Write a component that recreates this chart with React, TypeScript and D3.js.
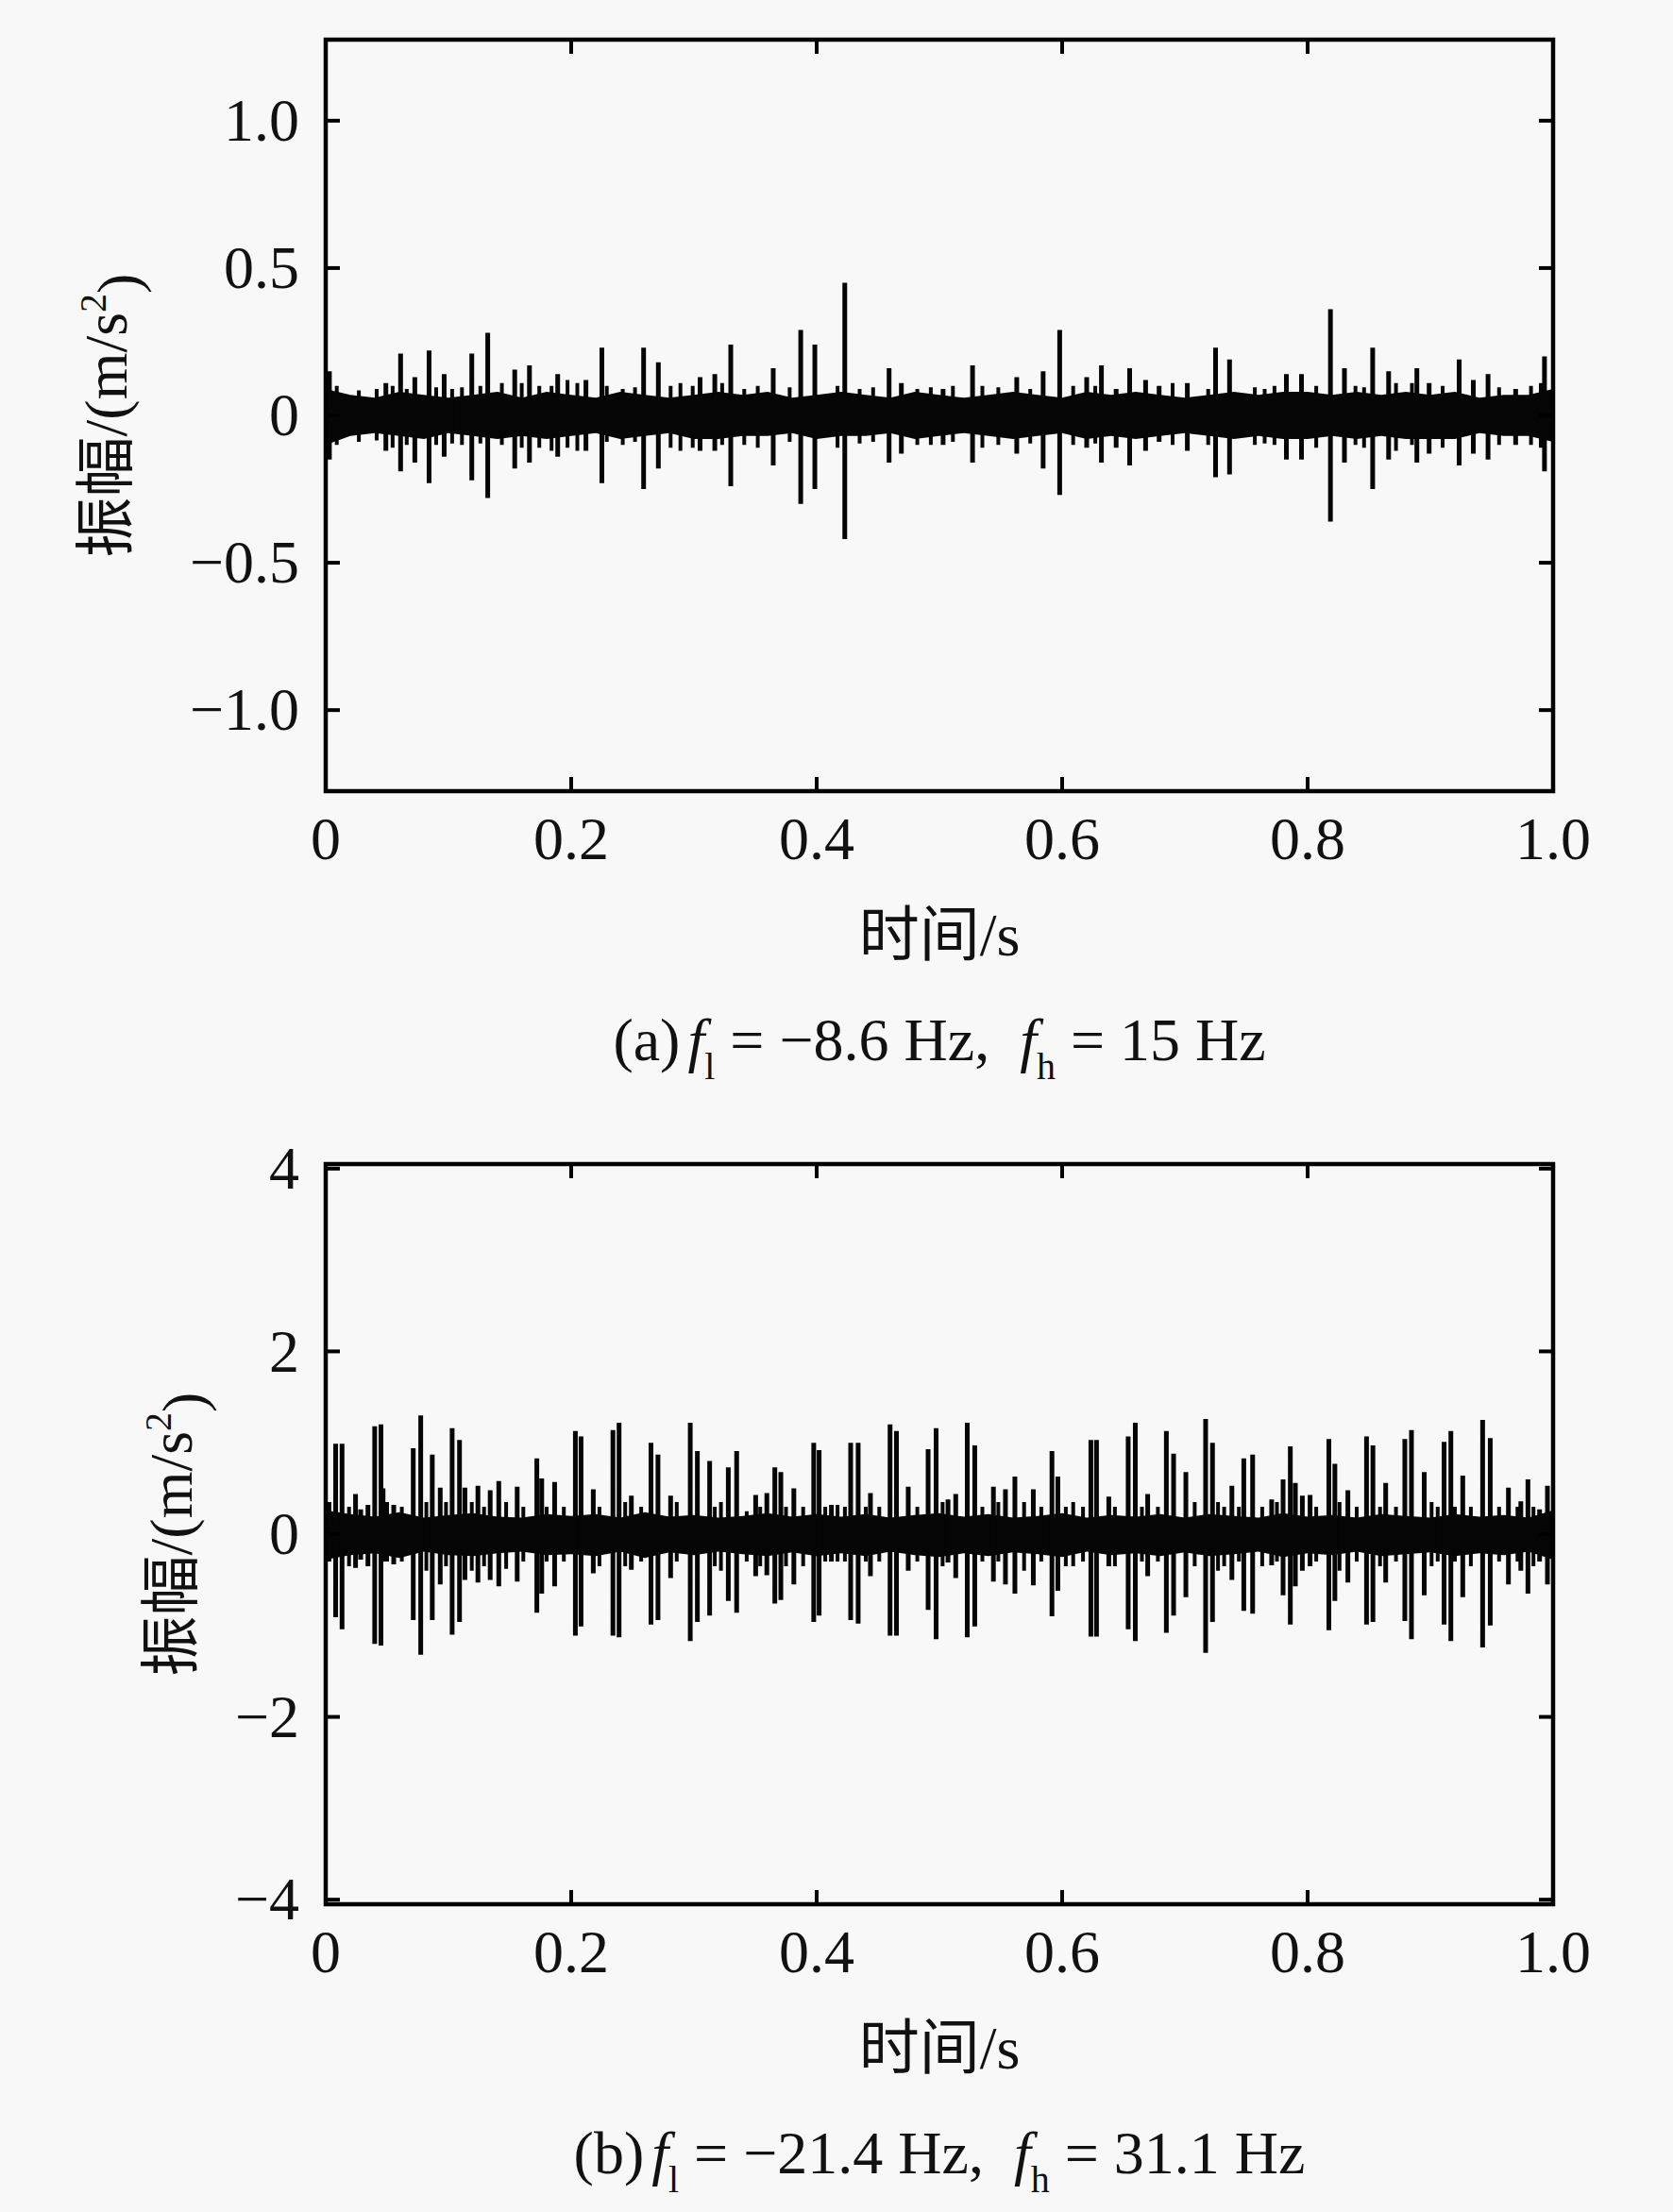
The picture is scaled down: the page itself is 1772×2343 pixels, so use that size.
import * as d3 from "d3";

// panel (a): band envelope every 0.02 s, and the impulses [t, max, min]
const bandT = d3.range(0, 51).map((i) => i * 0.02);

const aBandTop = [
  0.09, 0.07, 0.06, 0.08, 0.07, 0.06, 0.07, 0.08, 0.06, 0.08, 0.07, 0.06, 0.08,
  0.07, 0.06, 0.07, 0.08, 0.07, 0.08, 0.06, 0.07, 0.08, 0.07, 0.06, 0.08, 0.07,
  0.06, 0.07, 0.08, 0.07, 0.06, 0.08, 0.07, 0.08, 0.07, 0.06, 0.07, 0.08, 0.07,
  0.08, 0.08, 0.07, 0.08, 0.07, 0.08, 0.07, 0.08, 0.06, 0.07, 0.07, 0.09,
];
const aBandBot = [
  -0.1, -0.07, -0.06, -0.07, -0.08, -0.06, -0.07, -0.08, -0.07, -0.08, -0.07,
  -0.06, -0.08, -0.07, -0.06, -0.08, -0.08, -0.07, -0.07, -0.06, -0.08, -0.07,
  -0.07, -0.06, -0.08, -0.07, -0.06, -0.07, -0.08, -0.07, -0.06, -0.08, -0.07,
  -0.08, -0.07, -0.06, -0.07, -0.08, -0.07, -0.08, -0.08, -0.07, -0.08, -0.07,
  -0.08, -0.08, -0.08, -0.06, -0.07, -0.07, -0.09,
];
const aSpikes: [number, number, number][] = [
  [0.003, 0.15, -0.15], [0.049, 0.11, -0.12], [0.061, 0.21, -0.19],
  [0.0726, 0.13, -0.16], [0.0842, 0.22, -0.23], [0.0965, 0.14, -0.14],
  [0.119, 0.21, -0.22], [0.132, 0.28, -0.28], [0.154, 0.155, -0.18],
  [0.166, 0.17, -0.16], [0.189, 0.14, -0.14], [0.212, 0.12, -0.12],
  [0.225, 0.23, -0.23], [0.259, 0.23, -0.25], [0.271, 0.18, -0.18],
  [0.305, 0.13, -0.12], [0.317, 0.14, -0.12], [0.33, 0.24, -0.24],
  [0.3646, 0.16, -0.17], [0.387, 0.29, -0.3], [0.3985, 0.24, -0.25],
  [0.4229, 0.45, -0.42], [0.459, 0.16, -0.16], [0.469, 0.11, -0.13],
  [0.503, 0.09, -0.1], [0.527, 0.17, -0.16], [0.563, 0.13, -0.13],
  [0.5845, 0.15, -0.18], [0.598, 0.29, -0.27], [0.62, 0.13, -0.11],
  [0.632, 0.17, -0.16], [0.644, 0.09, -0.11], [0.655, 0.16, -0.17],
  [0.668, 0.12, -0.12], [0.679, 0.1, -0.09], [0.702, 0.11, -0.12],
  [0.725, 0.23, -0.21], [0.7364, 0.19, -0.2], [0.7827, 0.14, -0.15],
  [0.795, 0.14, -0.15], [0.8186, 0.36, -0.36], [0.83, 0.16, -0.16],
  [0.853, 0.23, -0.25], [0.866, 0.15, -0.15], [0.889, 0.16, -0.16],
  [0.899, 0.11, -0.13], [0.9235, 0.19, -0.17], [0.935, 0.12, -0.13],
  [0.947, 0.14, -0.15], [0.9695, 0.09, -0.1], [0.993, 0.2, -0.19],
];
// smaller bursts that make the fuzzy edge of the band
const aMinor: [number, number, number][] = [
  [0.009, 0.1, -0.1], [0.027, 0.085, -0.09], [0.0415, 0.09, -0.085],
  [0.0545, 0.1, -0.11], [0.066, 0.09, -0.1], [0.09, 0.095, -0.1],
  [0.103, 0.09, -0.095], [0.111, 0.095, -0.1], [0.126, 0.1, -0.095],
  [0.1435, 0.11, -0.1], [0.1597, 0.11, -0.11], [0.174, 0.1, -0.11],
  [0.184, 0.1, -0.12], [0.197, 0.12, -0.11], [0.205, 0.11, -0.12],
  [0.229, 0.1, -0.09], [0.242, 0.09, -0.1], [0.252, 0.095, -0.09],
  [0.281, 0.1, -0.11], [0.289, 0.11, -0.12], [0.299, 0.1, -0.11],
  [0.323, 0.11, -0.1], [0.341, 0.09, -0.1], [0.352, 0.1, -0.11],
  [0.378, 0.095, -0.09], [0.417, 0.1, -0.11], [0.435, 0.09, -0.095],
  [0.446, 0.095, -0.09], [0.482, 0.09, -0.1], [0.493, 0.095, -0.1],
  [0.511, 0.1, -0.09], [0.535, 0.1, -0.11], [0.548, 0.095, -0.1],
  [0.574, 0.09, -0.095], [0.609, 0.1, -0.1], [0.627, 0.1, -0.095],
  [0.69, 0.11, -0.1], [0.719, 0.09, -0.1], [0.757, 0.095, -0.1],
  [0.765, 0.09, -0.095], [0.773, 0.1, -0.1], [0.807, 0.1, -0.11],
  [0.839, 0.1, -0.1], [0.846, 0.095, -0.11], [0.872, 0.11, -0.12],
  [0.885, 0.11, -0.1], [0.91, 0.1, -0.11], [0.956, 0.095, -0.1],
  [0.982, 0.1, -0.1], [0.99, 0.11, -0.11],
];

// panel (b)
const bBandTop = [
  0.26, 0.22, 0.19, 0.24, 0.18, 0.21, 0.23, 0.19, 0.18, 0.22, 0.2, 0.22, 0.18,
  0.24, 0.19, 0.21, 0.18, 0.2, 0.23, 0.19, 0.22, 0.19, 0.22, 0.18, 0.21, 0.23,
  0.19, 0.22, 0.18, 0.2, 0.23, 0.18, 0.21, 0.19, 0.22, 0.18, 0.22, 0.2, 0.18,
  0.23, 0.19, 0.21, 0.18, 0.22, 0.2, 0.18, 0.22, 0.19, 0.21, 0.18, 0.26,
];
const bBandBot = [
  -0.28, -0.23, -0.21, -0.26, -0.19, -0.23, -0.24, -0.21, -0.19, -0.23, -0.22,
  -0.24, -0.19, -0.26, -0.2, -0.23, -0.19, -0.22, -0.24, -0.2, -0.24, -0.21,
  -0.24, -0.19, -0.23, -0.25, -0.21, -0.24, -0.2, -0.22, -0.25, -0.19, -0.23,
  -0.21, -0.24, -0.2, -0.24, -0.22, -0.19, -0.25, -0.21, -0.23, -0.19, -0.24,
  -0.22, -0.2, -0.24, -0.21, -0.23, -0.19, -0.28,
];
const bSpikes: [number, number, number][] = [
  [0.0081, 0.99, -0.91], [0.0133, 0.99, -1.04], [0.0243, 0.44, -0.37],
  [0.0285, 0.27, -0.28], [0.0344, 0.32, -0.35], [0.0399, 1.18, -1.2],
  [0.045, 1.2, -1.22], [0.0467, 0.5, -0.3], [0.0554, 0.32, -0.33],
  [0.0713, 0.94, -0.94], [0.0774, 1.3, -1.32], [0.0868, 0.87, -0.94],
  [0.0933, 0.51, -0.55], [0.103, 1.16, -1.1], [0.109, 1.03, -0.96],
  [0.1134, 0.51, -0.5], [0.124, 0.53, -0.53], [0.134, 0.48, -0.5],
  [0.141, 0.58, -0.57], [0.156, 0.52, -0.52], [0.172, 0.83, -0.86],
  [0.176, 0.61, -0.65], [0.1865, 0.57, -0.57], [0.2034, 1.13, -1.11],
  [0.208, 1.07, -1.01], [0.218, 0.49, -0.43], [0.234, 1.14, -1.11],
  [0.239, 1.22, -1.13], [0.249, 0.42, -0.39], [0.265, 1.0, -0.99],
  [0.2707, 0.87, -0.94], [0.281, 0.42, -0.48], [0.297, 1.22, -1.17],
  [0.3028, 0.91, -0.96], [0.3128, 0.8, -0.89], [0.328, 0.73, -0.73],
  [0.3348, 0.91, -0.86], [0.3503, 0.43, -0.46], [0.3594, 0.45, -0.45],
  [0.3659, 0.73, -0.76], [0.3708, 0.68, -0.72], [0.3814, 0.5, -0.55],
  [0.3976, 1.0, -0.96], [0.402, 0.92, -0.89], [0.412, 0.32, -0.3],
  [0.4277, 1.0, -0.94], [0.4338, 1.0, -0.98], [0.4438, 0.45, -0.46],
  [0.4598, 1.2, -1.11], [0.465, 1.13, -1.11], [0.4746, 0.52, -0.4],
  [0.4908, 0.93, -0.83], [0.4973, 1.16, -1.15], [0.507, 0.38, -0.31],
  [0.5133, 0.44, -0.48], [0.5227, 1.22, -1.13], [0.5288, 0.97, -1.01],
  [0.544, 0.52, -0.52], [0.5538, 0.49, -0.55], [0.5615, 0.63, -0.65],
  [0.5765, 0.49, -0.56], [0.5917, 0.91, -0.9], [0.5965, 0.63, -0.62],
  [0.6234, 1.03, -1.12], [0.628, 1.03, -1.12], [0.638, 0.41, -0.35],
  [0.6538, 1.07, -1.04], [0.6596, 1.22, -1.17], [0.6697, 0.44, -0.46],
  [0.6849, 1.13, -1.08], [0.6908, 0.88, -0.89], [0.7008, 0.68, -0.69],
  [0.7169, 1.26, -1.3], [0.7225, 1.0, -0.96], [0.7383, 0.53, -0.5],
  [0.748, 0.83, -0.84], [0.7552, 0.87, -0.87], [0.7707, 0.38, -0.34],
  [0.78, 0.6, -0.67], [0.7859, 0.96, -0.99], [0.79, 0.56, -0.57],
  [0.7957, 0.42, -0.4], [0.802, 0.43, -0.35], [0.8173, 1.04, -1.05],
  [0.8222, 0.77, -0.73], [0.8328, 0.48, -0.53], [0.848, 1.07, -0.99],
  [0.8532, 0.97, -0.96], [0.8636, 0.56, -0.53], [0.8792, 1.04, -0.95],
  [0.8846, 1.14, -1.15], [0.895, 0.68, -0.67], [0.9112, 1.01, -0.99],
  [0.9167, 1.13, -1.17], [0.9264, 0.64, -0.69], [0.9426, 1.25, -1.24],
  [0.9488, 1.05, -1.0], [0.9636, 0.51, -0.55], [0.9737, 0.36, -0.4],
  [0.9795, 0.6, -0.65], [0.989, 0.27, -0.3], [0.9954, 0.53, -0.55],
];
const bMinor: [number, number, number][] = [
  [0.003, 0.35, -0.3], [0.019, 0.3, -0.35], [0.05, 0.35, -0.3],
  [0.062, 0.3, -0.3], [0.082, 0.35, -0.4], [0.098, 0.35, -0.35],
  [0.119, 0.35, -0.4], [0.129, 0.3, -0.35], [0.147, 0.35, -0.38],
  [0.161, 0.3, -0.3], [0.18, 0.3, -0.3], [0.194, 0.3, -0.3],
  [0.223, 0.3, -0.35], [0.244, 0.35, -0.35], [0.257, 0.3, -0.3],
  [0.286, 0.35, -0.3], [0.317, 0.3, -0.35], [0.322, 0.35, -0.4],
  [0.343, 0.25, -0.3], [0.354, 0.3, -0.35], [0.375, 0.3, -0.35],
  [0.389, 0.3, -0.35], [0.407, 0.3, -0.3], [0.417, 0.32, -0.3],
  [0.423, 0.3, -0.3], [0.44, 0.3, -0.3], [0.451, 0.3, -0.3],
  [0.482, 0.3, -0.3], [0.5026, 0.35, -0.35], [0.535, 0.3, -0.3],
  [0.548, 0.35, -0.3], [0.569, 0.35, -0.4], [0.583, 0.3, -0.3],
  [0.603, 0.3, -0.35], [0.609, 0.35, -0.35], [0.617, 0.3, -0.3],
  [0.643, 0.3, -0.35], [0.665, 0.3, -0.3], [0.678, 0.3, -0.3],
  [0.708, 0.35, -0.35], [0.727, 0.35, -0.4], [0.732, 0.3, -0.35],
  [0.744, 0.3, -0.3], [0.763, 0.3, -0.35], [0.775, 0.35, -0.3],
  [0.807, 0.3, -0.3], [0.826, 0.35, -0.4], [0.84, 0.3, -0.3],
  [0.859, 0.3, -0.35], [0.872, 0.3, -0.3], [0.901, 0.35, -0.35],
  [0.906, 0.3, -0.3], [0.92, 0.3, -0.3], [0.933, 0.3, -0.35],
  [0.956, 0.3, -0.3], [0.971, 0.3, -0.3], [0.984, 0.3, -0.35],
];

const xTicks = [0, 0.2, 0.4, 0.6, 0.8, 1.0];
const xTickLabels = ["0", "0.2", "0.4", "0.6", "0.8", "1.0"];
const aYTicks = [1, 0.5, 0, -0.5, -1];
const aYTickLabels = ["1.0", "0.5", "0", "\u22120.5", "\u22121.0"];
const bYTicks = [4, 2, 0, -2, -4];
const bYTickLabels = ["4", "2", "0", "\u22122", "\u22124"];

const FONT = "'Liberation Serif', 'Times New Roman', 'Noto Sans CJK SC', serif";
const LEFT = 345;
const RIGHT = 1645;
const TICK = 15;
const INK = "#050505";

interface PanelProps {
  id: string;
  top: number;
  bottom: number;
  yMax: number;
  yTicks: number[];
  yTickLabels: string[];
  bandTop: number[];
  bandBot: number[];
  spikes: [number, number, number][];
  minor: [number, number, number][];
  yLabelX: number;
  letter: string;
  fl: string;
  fh: string;
}

function Panel(p: PanelProps) {
  const x = d3.scaleLinear().domain([0, 1]).range([LEFT, RIGHT]);
  const y = d3.scaleLinear().domain([-p.yMax, p.yMax]).range([p.bottom, p.top]);

  const area = d3
    .area<number>()
    .x((_d, i) => x(bandT[i]))
    .y0((_d, i) => y(p.bandBot[i]))
    .y1((d) => y(d));

  const toPath = (list: [number, number, number][]) =>
    list.map(([t, hi, lo]) => `M${x(t)},${y(hi)}V${y(lo)}`).join("");

  const zeroY = y(0);
  const midX = (LEFT + RIGHT) / 2;

  return (
    <g>
      <clipPath id={`clip-${p.id}`}>
        <rect x={LEFT} y={p.top} width={RIGHT - LEFT} height={p.bottom - p.top} />
      </clipPath>
      <g clipPath={`url(#clip-${p.id})`}>
        <path d={area(p.bandTop) || ""} fill={INK} />
        <path d={toPath(p.minor)} stroke={INK} strokeWidth={4} fill="none" />
        <path d={toPath(p.spikes)} stroke={INK} strokeWidth={5} fill="none" />
      </g>

      <rect
        x={LEFT}
        y={p.top}
        width={RIGHT - LEFT}
        height={p.bottom - p.top}
        fill="none"
        stroke="#000"
        strokeWidth={4.5}
      />
      {xTicks.map((t) => (
        <g key={`xt${t}`} stroke="#000" strokeWidth={4}>
          <line x1={x(t)} x2={x(t)} y1={p.bottom} y2={p.bottom - TICK} />
          <line x1={x(t)} x2={x(t)} y1={p.top} y2={p.top + TICK} />
        </g>
      ))}
      {p.yTicks.map((v) => (
        <g key={`yt${v}`} stroke="#000" strokeWidth={4}>
          <line x1={LEFT} x2={LEFT + TICK} y1={y(v)} y2={y(v)} />
          <line x1={RIGHT} x2={RIGHT - TICK} y1={y(v)} y2={y(v)} />
        </g>
      ))}

      <g fontFamily={FONT} fontSize={64} fill="#111">
        {xTicks.map((t, i) => (
          <text key={`xl${t}`} x={x(t)} y={p.bottom + 72} textAnchor="middle">
            {xTickLabels[i]}
          </text>
        ))}
        {p.yTicks.map((v, i) => (
          <text key={`yl${v}`} x={317} y={y(v)} dy="0.33em" textAnchor="end">
            {p.yTickLabels[i]}
          </text>
        ))}
        <text
          transform={`translate(${p.yLabelX},${zeroY}) rotate(-90)`}
          textAnchor="middle"
        >
          振幅/(m/s<tspan dy="-0.55em" fontSize={40}>2</tspan>
          <tspan dy="0.55em">)</tspan>
        </text>
        <text x={midX} y={p.bottom + 174} textAnchor="middle">
          时间/s
        </text>
        <text
          x={midX}
          y={p.bottom + 285}
          textAnchor="middle"
          fontSize={64}
          style={{ whiteSpace: "pre" }}
        >
          ({p.letter})<tspan dx={8} fontStyle="italic">f</tspan>
          <tspan dy={20} fontSize={40}>l</tspan>
          <tspan dy={-20}>{` = \u2212${p.fl} Hz,  `}</tspan>
          <tspan fontStyle="italic">f</tspan>
          <tspan dy={20} fontSize={40}>h</tspan>
          <tspan dy={-20}>{` = ${p.fh} Hz`}</tspan>
        </text>
      </g>
    </g>
  );
}

export default function App() {
  return (
    <svg
      width={1772}
      height={2343}
      style={{ position: "absolute", left: 0, top: 0, display: "block" }}
    >
      <rect width={1772} height={2343} fill="#f8f8f8" />
      <Panel
        id="a"
        top={42}
        bottom={838}
        yMax={1.275}
        yTicks={aYTicks}
        yTickLabels={aYTickLabels}
        bandTop={aBandTop}
        bandBot={aBandBot}
        spikes={aSpikes}
        minor={aMinor}
        yLabelX={134}
        letter="a"
        fl="8.6"
        fh="15"
      />
      <Panel
        id="b"
        top={1233}
        bottom={2017}
        yMax={4.05}
        yTicks={bYTicks}
        yTickLabels={bYTickLabels}
        bandTop={bBandTop}
        bandBot={bBandBot}
        spikes={bSpikes}
        minor={bMinor}
        yLabelX={203}
        letter="b"
        fl="21.4"
        fh="31.1"
      />
    </svg>
  );
}
